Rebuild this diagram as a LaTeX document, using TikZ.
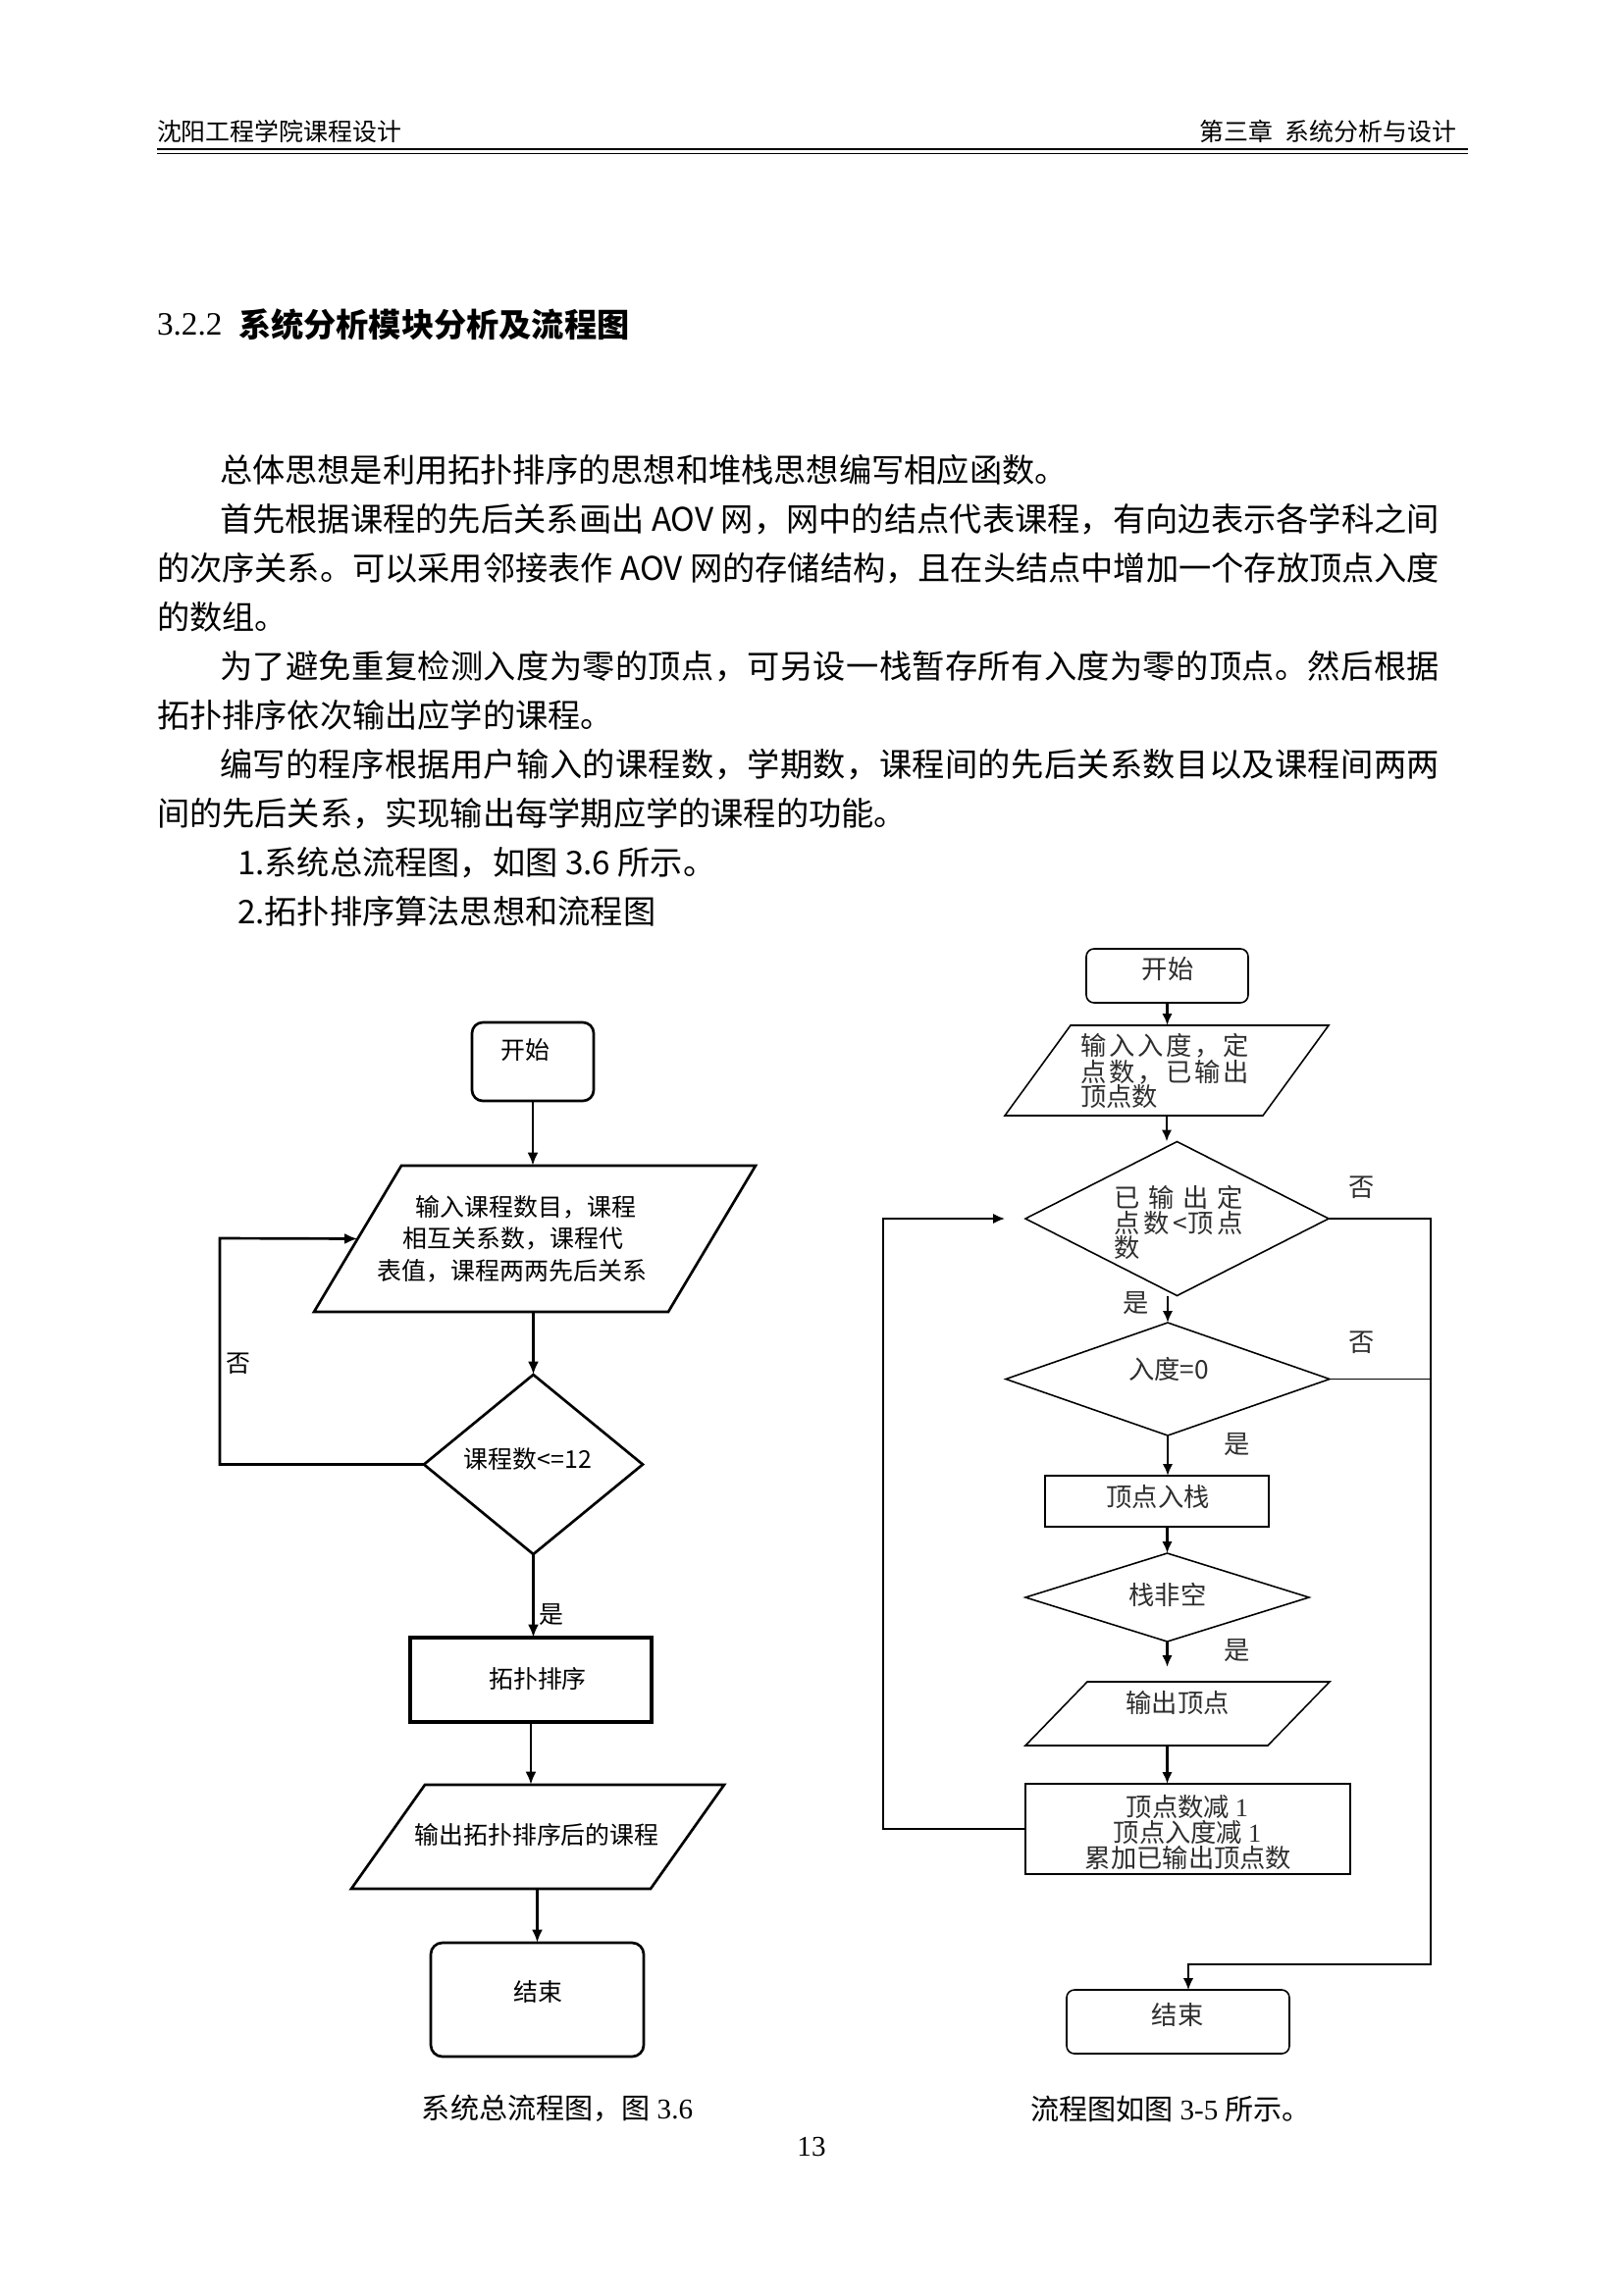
\documentclass[tikz,border=0pt]{standalone}
\usepackage{fontspec}
\setmainfont{Liberation Serif}
\newfontfamily\cjk{Noto Sans CJK SC}
\usetikzlibrary{arrows.meta,shapes.geometric,calc}
\def\px{0.12697mm}
\def\spreadchars#1{#1\spreadrest}
\def\spreadrest#1{\ifx#1\relax\else\hfil#1\expandafter\spreadrest\fi}
\begin{document}
\begin{tikzpicture}[x=\px,y=-\px,
  base/.style={inner sep=0pt,outer sep=0pt},
  box/.style={base,draw=none},
  Lsh/.style={base,draw,line width=0.34mm},
  Rsh/.style={base,draw,line width=0.2mm},
  Lline/.style={line width=0.34mm,line join=miter},
  Rline/.style={line width=0.2mm,line join=miter},
  LT/.style={base,font=\cjk\fontsize{9}{11}\selectfont},
  RT/.style={base,font=\cjk\fontsize{9.5}{11}\selectfont,text=black!82},
  body/.style={base,anchor=west,font=\cjk\fontsize{12}{14}\selectfont},
  larr/.style={line width=0.34mm,-{Latex[length=1.7mm,width=1.4mm]}},
  rarr/.style={line width=0.3mm,-{Latex[length=1.5mm,width=1.3mm]}},
  rthin/.style={line width=0.2mm,-{Latex[length=1.5mm,width=1.3mm]}},
]
\fill[white] (0,0) rectangle (1654,2339);
\useasboundingbox (0,0) rectangle (1654,2339);

% ---------- header ----------
\node[base,anchor=west,font=\cjk\fontsize{9}{10}\selectfont] (h1) at (160,134) {沈阳工程学院课程设计};
\node[base,anchor=east,font=\cjk\fontsize{9}{10}\selectfont] (h2) at (1484,134) {第三章\hspace{0.5em}系统分析与设计};
\draw[line width=2*\px] (160,152) -- (1496,152);
\draw[line width=0.8*\px] (160,156.5) -- (1496,156.5);

% ---------- title ----------
\node[base,anchor=west,font=\fontsize{12}{14}\selectfont] (t0) at (160,331) {3.2.2};
\node[base,anchor=west,font=\cjk\bfseries\fontsize{12}{14}\selectfont] (t1) at (243,331) {系统分析模块分析及流程图};

% ---------- body ----------
\node[body] (b1) at (224,479) {总体思想是利用拓扑排序的思想和堆栈思想编写相应函数。};
\node[body] (b2) at (224,529) {\makebox[157.82mm][s]{\spreadchars 首先根据课程的先后关系画出\relax\hfil\ AOV\ \hfil\spreadchars 网，网中的结点代表课程，有向边表示各学科之间\relax}};
\node[body] (b3) at (160,579) {的次序关系。可以采用邻接表作 AOV 网的存储结构，且在头结点中增加一个存放顶点入度};
\node[body] (b4) at (160,629) {的数组。};
\node[body] (b5) at (224,679) {\makebox[157.82mm][s]{\spreadchars 为了避免重复检测入度为零的顶点，可另设一栈暂存所有入度为零的顶点。然后根据\relax}};
\node[body] (b6) at (160,729) {拓扑排序依次输出应学的课程。};
\node[body] (b7) at (224,779) {\makebox[157.82mm][s]{\spreadchars 编写的程序根据用户输入的课程数，学期数，课程间的先后关系数目以及课程间两两\relax}};
\node[body] (b8) at (160,829) {间的先后关系，实现输出每学期应学的课程的功能。};
\node[body] (b9) at (242,879) {1.系统总流程图，如图 3.6 所示。};
\node[body] (b10) at (242,929) {2.拓扑排序算法思想和流程图};

% ---------- left flowchart ----------
\node[Lsh,rounded corners=1.4mm,minimum width=124*\px,minimum height=80*\px] (s1) at (543,1082) {};
\node[LT] (s1t) at (535,1070) {开始};

\node[box,minimum width=450*\px,minimum height=149*\px] (p1) at (545,1262.5) {};
\draw[Lline] ($(p1.north west)+(89,0)$) -- (p1.north east) -- ($(p1.south east)+(-89,0)$) -- (p1.south west) -- cycle;
\node[LT] (p1a) at (536,1230) {输入课程数目，课程};
\node[LT] (p1b) at (523,1262) {相互关系数，课程代};
\node[LT] (p1c) at (522,1295) {表值，课程两两先后关系};

\node[Lsh,diamond,minimum width=223*\px,minimum height=183*\px] (d1) at (543.5,1492.5) {};
\node[LT] (d1t) at (538,1487) {课程数<=12};

\node[Lsh,line width=0.5mm,minimum width=246*\px,minimum height=86*\px] (r1) at (541,1712) {};
\node[LT] (r1t) at (548,1711) {拓扑排序};

\node[box,minimum width=380*\px,minimum height=106*\px] (p2) at (548,1872) {};
\draw[Lline] ($(p2.north west)+(75,0)$) -- (p2.north east) -- ($(p2.south east)+(-75,0)$) -- (p2.south west) -- cycle;
\node[LT] (p2t) at (547,1870) {输出拓扑排序后的课程};

\node[Lsh,rounded corners=1.5mm,minimum width=217*\px,minimum height=116*\px] (e1) at (547.5,2038) {};
\node[LT] (e1t) at (548,2030) {结束};

\draw[larr] (s1.south) -- (s1.south |- p1.north);
\draw[larr] (d1.north |- p1.south) -- (d1.north);
\draw[larr] (d1.south) -- (d1.south |- r1.north);
\draw[larr] (r1.south) -- (r1.south |- p2.north);
\draw[larr] (e1.north |- p2.south) -- (e1.north);
\coordinate (lx) at (224,1262);
\coordinate (p1L) at ($(p1.west)+(44.5,0)$);
\draw[larr] (d1.west) -| (lx) -- (p1L);
\node[LT] (no1) at (243,1390) {否};
\node[LT,anchor=west] (yes1) at (549,1646) {是};

% ---------- right flowchart ----------
\node[Rsh,rounded corners=1mm,minimum width=165*\px,minimum height=55*\px] (s2) at (1189.5,994.5) {};
\node[RT] (s2t) at (1190,988) {开始};

\node[box,minimum width=330*\px,minimum height=92*\px] (pp1) at (1189,1091) {};
\draw[Rline] ($(pp1.north west)+(67,0)$) -- (pp1.north east) -- ($(pp1.south east)+(-67,0)$) -- (pp1.south west) -- cycle;
\node[RT,anchor=west] (pp1a) at (1101,1066) {\makebox[21.84mm][s]{输\hfill 入\hfill 入\hfill 度\hfill ，\hfill 定}};
\node[RT,anchor=west] (pp1b) at (1101,1093) {\makebox[21.84mm][s]{点\hfill 数\hfill ，\hfill 已\hfill 输\hfill 出}};
\node[RT,anchor=west] (pp1c) at (1101,1118) {顶点数};

\node[Rsh,diamond,minimum width=309*\px,minimum height=157*\px] (dd1) at (1199.5,1242) {};
\node[RT,anchor=west] (dd1a) at (1135,1220) {\makebox[16.76mm][s]{已\hfill 输\hfill 出\hfill 定}};
\node[RT,anchor=west] (dd1b) at (1135,1247) {\makebox[16.76mm][s]{点\hfill 数\hfill <顶\hfill 点}};
\node[RT,anchor=west] (dd1c) at (1135,1272) {数};

\node[Rsh,diamond,minimum width=330*\px,minimum height=115*\px] (dd2) at (1190,1405.5) {};
\node[RT] (dd2t) at (1191,1395) {入度=0};

\node[Rsh,minimum width=228*\px,minimum height=52*\px] (rr1) at (1179,1530) {};
\node[RT] (rr1t) at (1180,1526) {顶点入栈};

\node[Rsh,diamond,minimum width=289*\px,minimum height=90*\px] (dd3) at (1189.5,1628) {};
\node[RT] (dd3t) at (1190,1625) {栈非空};

\node[box,minimum width=310*\px,minimum height=65*\px] (pp2) at (1200,1746.5) {};
\draw[Rline] ($(pp2.north west)+(63,0)$) -- (pp2.north east) -- ($(pp2.south east)+(-63,0)$) -- (pp2.south west) -- cycle;
\node[RT] (pp2t) at (1200,1735) {输出顶点};

\node[Rsh,minimum width=331*\px,minimum height=92*\px] (rr2) at (1210.5,1864) {};
\node[RT] (rr2a) at (1210,1842) {顶点数减 {\rmfamily 1}};
\node[RT] (rr2b) at (1210,1867) {顶点入度减 {\rmfamily 1}};
\node[RT] (rr2c) at (1211,1893) {累加已输出顶点数};

\node[Rsh,rounded corners=1mm,minimum width=227*\px,minimum height=65*\px] (e2) at (1200.5,2060.5) {};
\node[RT] (e2t) at (1200,2053) {结束};

\draw[rarr] (s2.south) -- (s2.south |- pp1.north);
\draw[rarr] (pp1.south) -- (pp1.south |- dd1.north);
\draw[rarr] (dd2.north |- dd1.south) -- (dd2.north);
\draw[rarr] (dd2.south) -- (dd2.south |- rr1.north);
\draw[rarr] (dd3.north |- rr1.south) -- (dd3.north);
\coordinate (pp2in) at ($(dd3.south |- pp2.north)+(0,-15)$);
\draw[rarr] (dd3.south) -- (pp2in);
\draw[rarr] (dd3.south |- pp2.south) -- (dd3.south |- rr2.north);
\coordinate (rx) at (900,1242);
\coordinate (dd1L) at ($(dd1.west)+(-21,0)$);
\draw[rarr,line width=0.26mm] (rr2.west) -| (rx) -- (dd1L);
\coordinate (rb) at (1458,2002);
\coordinate (e2in) at ($(e2.north)+(10.5,0)$);
\draw[rthin] (dd1.east) -| (rb) -| (e2in);
\draw[Rline] (dd2.east) -- (dd2.east -| rb);
\node[RT] (no2) at (1388,1210) {否};
\node[RT] (no3) at (1388,1368) {否};
\node[RT] (yes2) at (1158,1328) {是};
\node[RT] (yes3) at (1261,1472) {是};
\node[RT] (yes4) at (1261,1682) {是};

% ---------- captions ----------
\node[base,font=\fontsize{10.5}{12}\selectfont] (cap1) at (568,2149) {{\cjk 系统总流程图，图}\ 3.6};
\node[base,font=\fontsize{10.5}{12}\selectfont] (cap2) at (1193,2149) {{\cjk 流程图如图}\ 3-5\ {\cjk 所示。}};
\node[base,font=\fontsize{10.5}{12}\selectfont] (pg) at (827,2188) {13};
\end{tikzpicture}
\end{document}
